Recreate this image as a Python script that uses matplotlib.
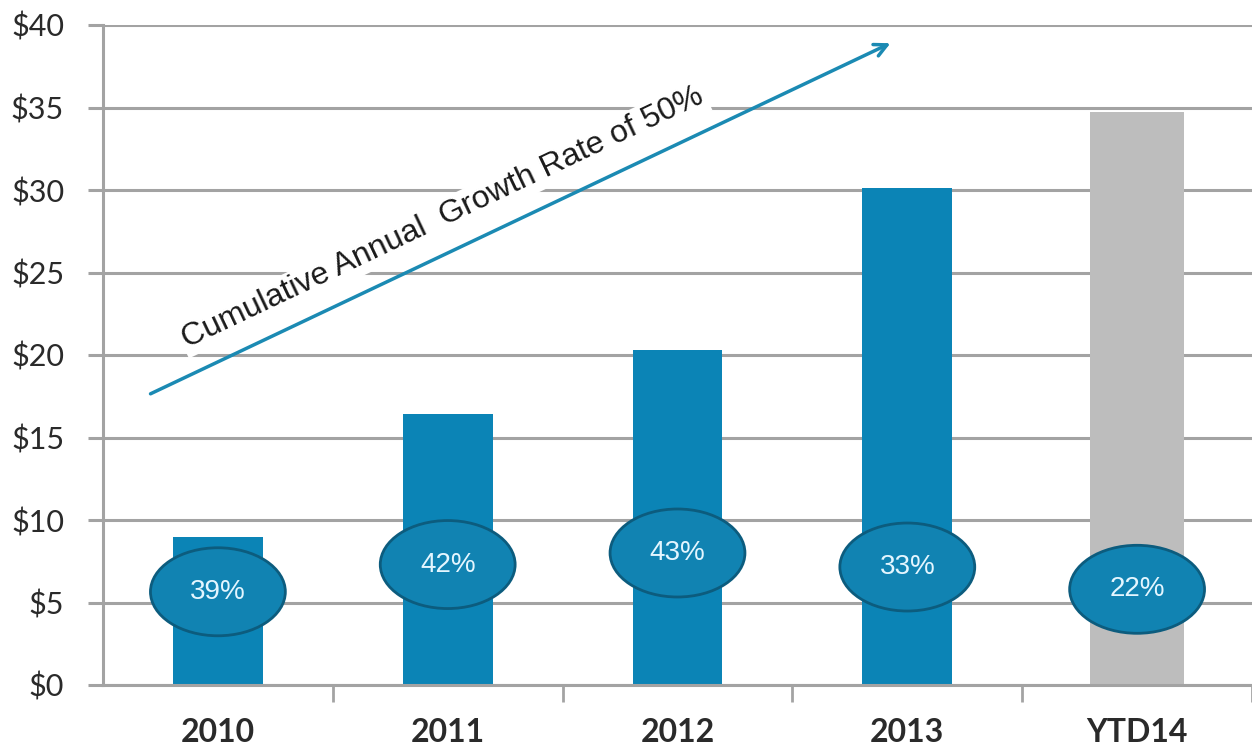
import matplotlib
matplotlib.use("Agg")
import matplotlib.pyplot as plt
from matplotlib.patches import Ellipse

categories = ["2010", "2011", "2012", "2013", "YTD14"]
values = [8.95, 16.45, 20.3, 30.1, 34.7]
growth_labels = ["39%", "42%", "43%", "33%", "22%"]
label_y = [5.65, 7.3, 8.0, 7.15, 5.8]
yticks = [0, 5, 10, 15, 20, 25, 30, 35, 40]
ytick_labels = ["$0", "$5", "$10", "$15", "$20", "$25", "$30", "$35", "$40"]
annotation = "Cumulative Annual  Growth Rate of 50%"

blue = "#0B84B6"
gray_bar = "#BDBDBD"
grid_c = "#A3A3A3"

fig = plt.figure(figsize=(12.52, 7.49), dpi=100)
ax = fig.add_axes([103/1252, (749-685)/749, (1252-103)/1252, (685-25)/749])

x = list(range(len(categories)))
colors = [blue]*4 + [gray_bar]
widths = [0.39]*4 + [0.41]
ax.bar(x, values, width=widths, color=colors, zorder=2)

ax.set_xlim(-0.5, 4.5)
ax.set_ylim(0, 40)
ax.set_yticks(yticks)
ax.set_yticklabels(ytick_labels)
ax.yaxis.grid(True, color=grid_c, linewidth=2.2, zorder=0)
ax.set_axisbelow(True)

for s in ["top", "right"]:
    ax.spines[s].set_visible(False)
for s in ["left", "bottom"]:
    ax.spines[s].set_color(grid_c)
    ax.spines[s].set_linewidth(2.2)
ax.spines["bottom"].set_zorder(3)

ax.set_xticks(x)
ax.set_xticklabels(categories)
ax.tick_params(axis="x", length=0, pad=24)
ax.set_xticks([i + 0.5 for i in x], minor=True)
ax.tick_params(axis="x", which="minor", length=12, width=2, color=grid_c, direction="out")
ax.tick_params(axis="y", length=11, width=2.2, color=grid_c, pad=17)

for lab in ax.get_yticklabels():
    lab.set_fontfamily("Lato")
    lab.set_fontsize(22)
    lab.set_color("#2A2A2A")
for lab in ax.get_xticklabels():
    lab.set_fontfamily("Lato")
    lab.set_fontweight("bold")
    lab.set_fontsize(23)
    lab.set_color("#2A2A2A")

# ellipses with growth labels (pixel size converted to data units)
ew = 135/230.0
eh = 88/16.5
for xi, yi, txt in zip(x, label_y, growth_labels):
    e = Ellipse((xi, yi), ew, eh, facecolor="#1183B2", edgecolor="#0C5C7E",
                linewidth=2, zorder=4)
    ax.add_patch(e)
    ax.text(xi, yi, txt, ha="center", va="center", color="#E4F6FF",
            fontsize=20, family="Liberation Sans", zorder=5)

# growth arrow (axes fraction coordinates)
def px(xp, yp):
    return ((xp - 103) / (1252 - 103), (685 - yp) / (685 - 25))

ax.annotate("", xy=px(893, 42), xytext=px(148, 395), xycoords="axes fraction",
            textcoords="axes fraction",
            arrowprops=dict(arrowstyle="->,head_length=0.9,head_width=0.45",
                            color="#1B8AB3", linewidth=2.5), zorder=7)
ax.text(*px(443, 218), annotation, transform=ax.transAxes, rotation=25.4,
        rotation_mode="anchor", ha="center", va="center", fontsize=23,
        family="Liberation Sans", color="#1A1A1A", zorder=6,
        bbox=dict(facecolor="white", edgecolor="none", pad=2))

fig.savefig("out.png", dpi=100, facecolor="white")
